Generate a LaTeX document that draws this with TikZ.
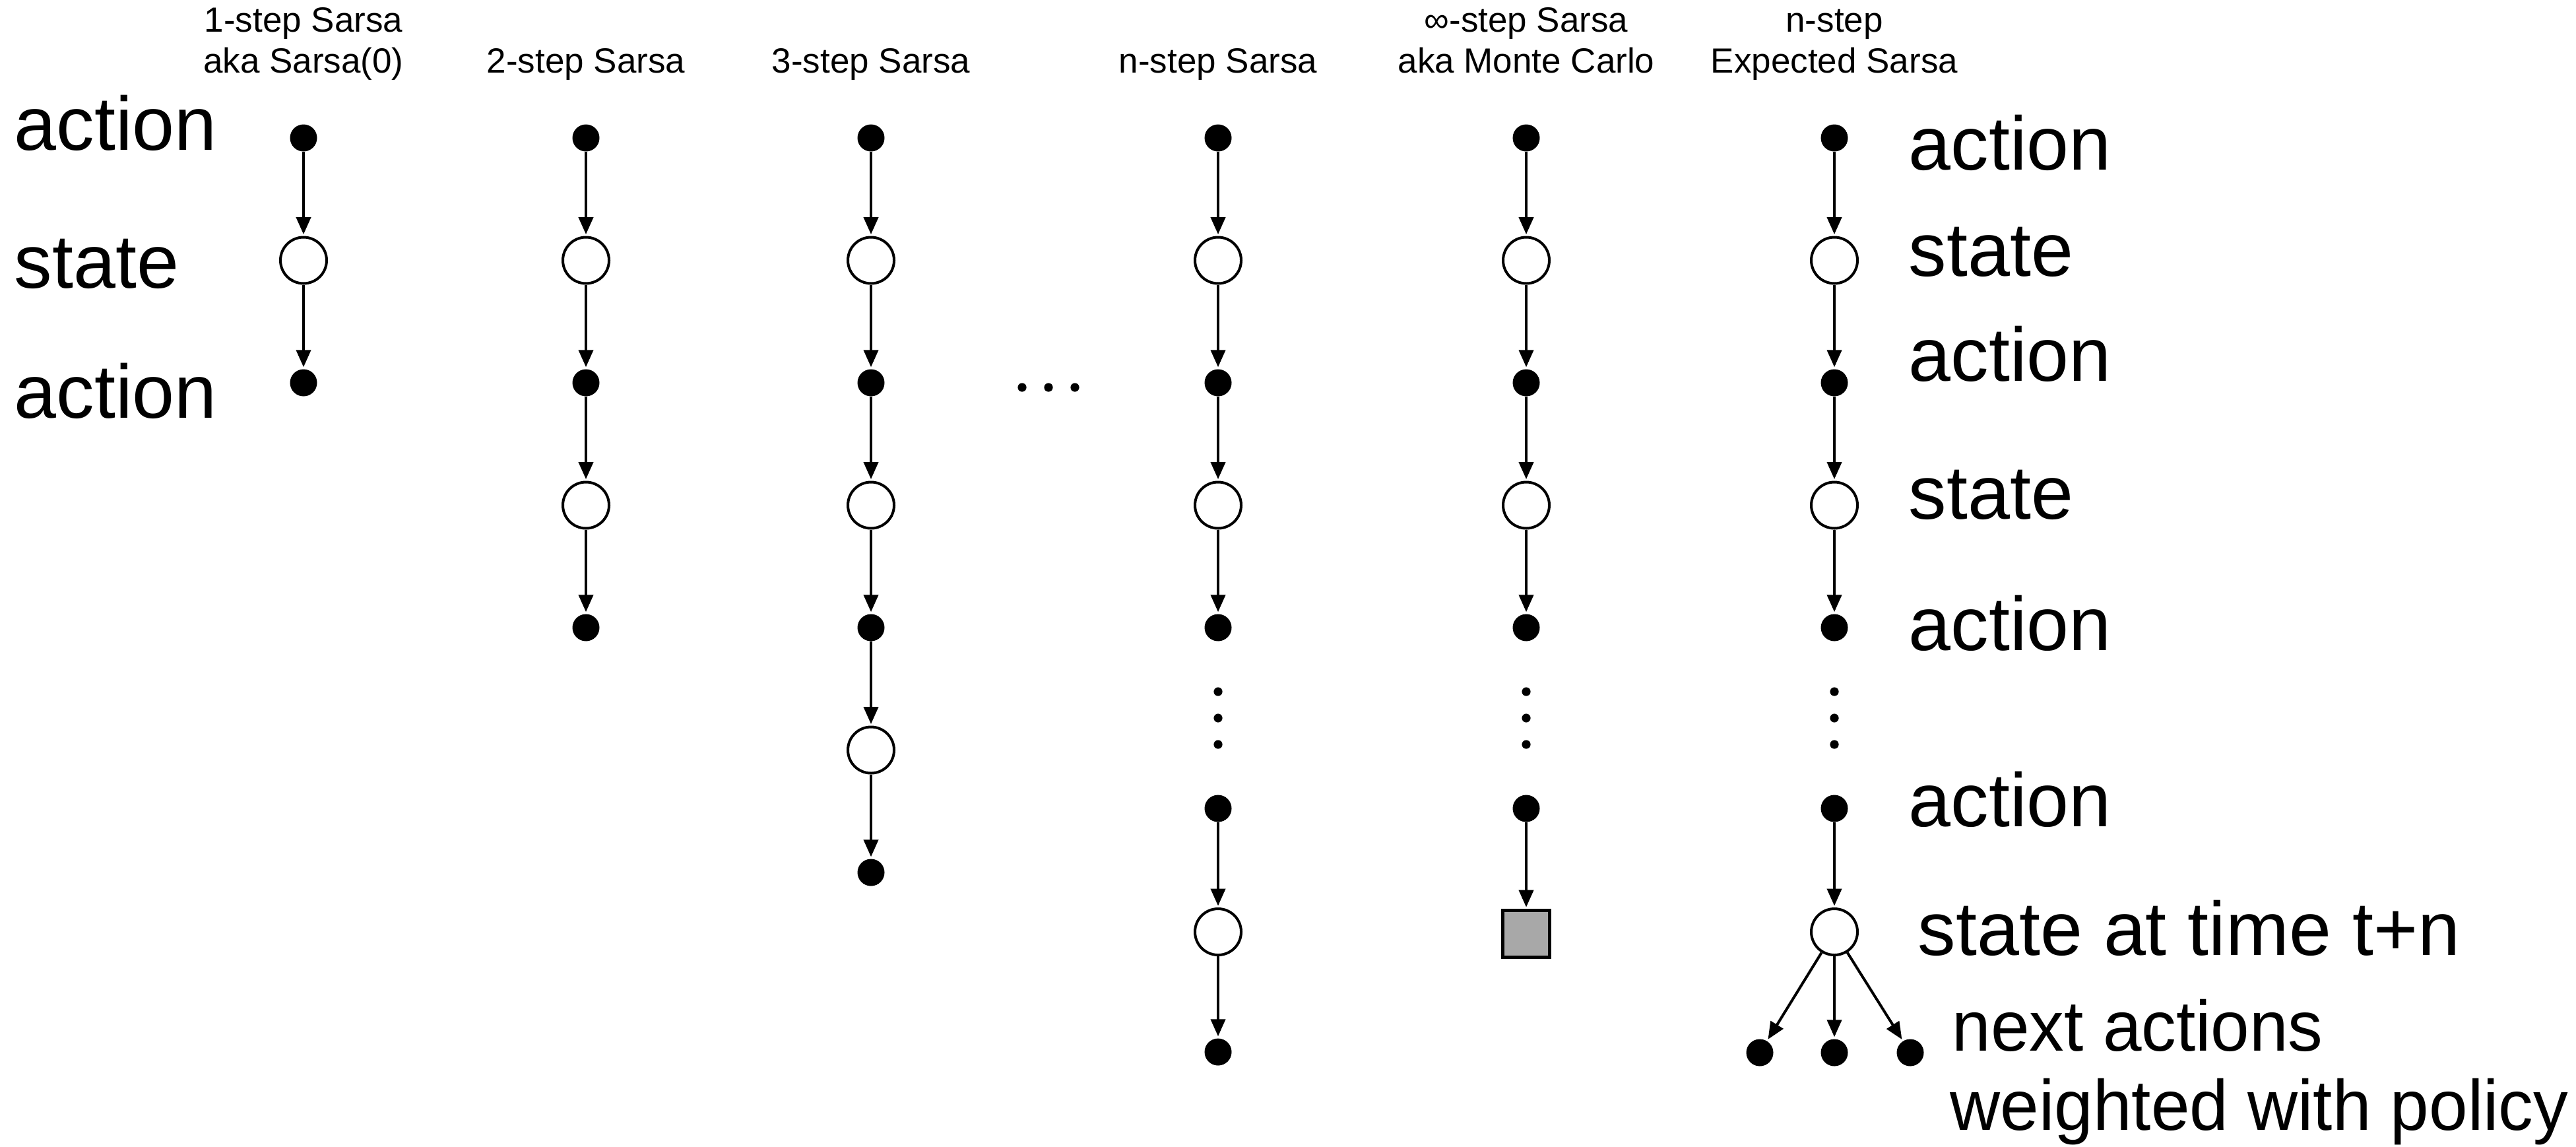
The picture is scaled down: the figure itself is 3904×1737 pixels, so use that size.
\documentclass[tikz,border=0pt]{standalone}
\usepackage{fontspec}
\setmainfont{Liberation Sans}
\newfontfamily\narrowsans[FakeStretch=0.975]{Liberation Sans}
\usetikzlibrary{arrows.meta}
\definecolor{termgray}{HTML}{A8A8A8}
\begin{document}
\begin{tikzpicture}[x=0.25pt,y=-0.25pt,
  act/.style={circle,fill=black,inner sep=0pt,minimum size=10.25pt},
  st/.style={circle,draw=black,line width=1pt,fill=white,inner sep=0pt,minimum size=17.5pt},
  term/.style={rectangle,draw=black,line width=1.25pt,fill=termgray,inner sep=0pt,minimum size=17.75pt},
  edge/.style={-{Triangle[length=6.5pt,width=5.5pt]},line width=1pt,shorten >=0.6pt},
  ell/.style={circle,fill=black,inner sep=0pt,minimum size=3.3pt},
  title/.style={font=\fontsize{13.25pt}{15.5pt}\selectfont,anchor=base,inner sep=0pt},
  big/.style={font=\fontsize{28.75pt}{30pt}\selectfont,anchor=base west,inner sep=0pt},
  mid/.style={font=\narrowsans\fontsize{27pt}{30pt}\selectfont,anchor=base west,inner sep=0pt}]

\useasboundingbox (0,0) rectangle (3904,1737);

% titles
\node[title] (t1a) at (460,48) {1-step Sarsa};
\node[title] (t1b) at (460,110) {aka Sarsa(0)};
\node[title] (t2) at (888,110) {2-step Sarsa};
\node[title] (t3) at (1320,110) {3-step Sarsa};
\node[title] (t4) at (1846,110) {n-step Sarsa};
\node[title] (t5a) at (2313,48) {∞-step Sarsa};
\node[title] (t5b) at (2313,110) {aka Monte Carlo};
\node[title] (t6a) at (2780,48) {n-step};
\node[title] (t6b) at (2780,110) {Expected Sarsa};

% upper chains
\foreach \c/\x/\n in {1/460/2, 2/888/4, 3/1320/6, 4/1846/4, 5/2313/4, 6/2780/4} {
  \foreach \k in {0,...,\n} {
    \pgfmathsetmacro\yy{209+185.5*\k}
    \pgfmathtruncatemacro\parity{mod(\k,2)}
    \ifnum\parity=1
      \node[st] (c\c-\k) at (\x,\yy) {};
    \else
      \node[act] (c\c-\k) at (\x,\yy) {};
    \fi
  }
  \foreach \k [evaluate=\k as \kk using int(\k-1)] in {1,...,\n}
    \draw[edge] (c\c-\kk) -- (c\c-\k);
}

% vertical ellipses
\foreach \c/\x in {4/1846, 5/2313, 6/2780} {
  \node[ell] (v\c-1) at (\x,1048) {};
  \node[ell] (v\c-2) at (\x,1088) {};
  \node[ell] (v\c-3) at (\x,1128) {};
}
% horizontal ellipsis
\node[ell] (h1) at (1549,587) {};
\node[ell] (h2) at (1589,587) {};
\node[ell] (h3) at (1629,587) {};

% lower part, n-step Sarsa
\node[act] (c4-x) at (1846,1225) {};
\node[st]  (c4-y) at (1846,1412) {};
\node[act] (c4-z) at (1846,1594) {};
\draw[edge] (c4-x) -- (c4-y);
\draw[edge] (c4-y) -- (c4-z);

% lower part, Monte Carlo
\node[act]  (c5-x) at (2313,1225) {};
\node[term] (c5-y) at (2313,1415) {};
\draw[edge] (c5-x) -- (c5-y);

% lower part, Expected Sarsa
\node[act] (c6-x) at (2780,1225) {};
\node[st]  (c6-y) at (2780,1412) {};
\node[act] (c6-l) at (2667,1595) {};
\node[act] (c6-m) at (2780,1595) {};
\node[act] (c6-r) at (2895,1595) {};
\draw[edge] (c6-x) -- (c6-y);
\draw[edge] (c6-y) -- (c6-l);
\draw[edge] (c6-y) -- (c6-m);
\draw[edge] (c6-y) -- (c6-r);

% left labels
\node[big] (la0) at (21,227) {action};
\node[big] (la1) at (21,436) {state};
\node[big] (la2) at (21,633) {action};

% right labels
\node[big] (ra0) at (2892,257) {action};
\node[big] (ra1) at (2892,418) {state};
\node[big] (ra2) at (2892,577) {action};
\node[big] (ra3) at (2892,786) {state};
\node[big] (ra4) at (2892,985) {action};
\node[big] (ra5) at (2892,1252) {action};
\node[big] (ra6) at (2906,1447) {state at time t+n};
\node[mid] (ra7) at (2958,1592) {next actions};
\node[mid] (ra8) at (2955,1712) {weighted with policy};
\end{tikzpicture}
\end{document}
